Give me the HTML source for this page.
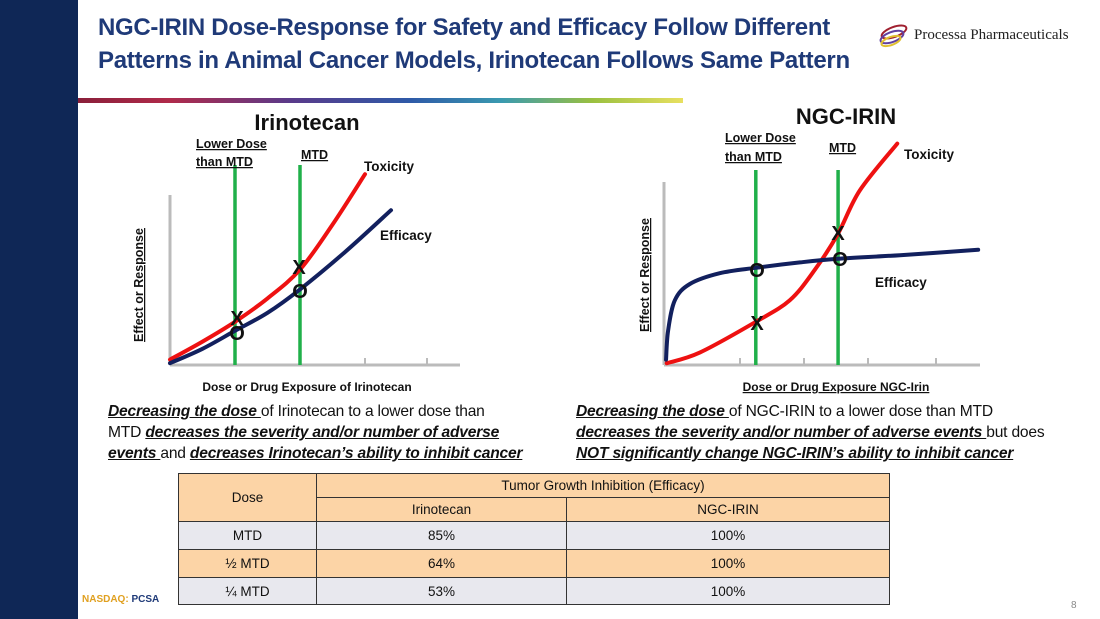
<!DOCTYPE html>
<html><head><meta charset="utf-8">
<style>
body{margin:0;width:1100px;height:619px;position:relative;background:#fff;font-family:"Liberation Sans",sans-serif;overflow:hidden}
.abs{position:absolute;white-space:nowrap}
.title{left:98px;color:#1f3a78;font-weight:bold;font-size:24px;letter-spacing:-0.3px}
.para{font-size:15.6px;color:#111;letter-spacing:-0.2px}
.para b{font-style:italic;text-decoration:underline}
table{position:absolute;left:178px;top:473px;border-collapse:collapse;font-size:13.5px;width:712px;color:#111}
td{border:1px solid #333;text-align:center;padding:0}
.o{background:#fcd4a6}.g{background:#e8e8ee}
</style></head><body>
<div class="abs" style="left:0;top:0;width:78px;height:619px;background:#0f2756"></div>
<div class="abs title" style="top:14px">NGC-IRIN Dose-Response for Safety and Efficacy Follow Different</div>
<div class="abs title" style="top:47px">Patterns in Animal Cancer Models, Irinotecan Follows Same Pattern</div>
<div class="abs" style="left:78px;top:98px;width:605px;height:5px;background:linear-gradient(90deg,#8a1f3a,#b02a4a 15%,#5a3a8a 35%,#2e5aa8 55%,#3a9ab0 70%,#9ac040 85%,#e8e060)"></div>
<div class="abs" style="left:876px;top:24px">
<svg width="40" height="24"><ellipse cx="18" cy="8" rx="13" ry="5" fill="none" stroke="#a02030" stroke-width="2" transform="rotate(-20 18 8)"/><ellipse cx="16" cy="13" rx="12" ry="5" fill="none" stroke="#6040a0" stroke-width="2" transform="rotate(-20 16 13)"/><ellipse cx="15" cy="17" rx="10" ry="4" fill="none" stroke="#e0c030" stroke-width="2" transform="rotate(-20 15 17)"/></svg></div>
<div class="abs" style="left:914px;top:27px;font-family:'Liberation Serif',serif;font-size:15px;color:#222">Processa Pharmaceuticals</div>

<svg class="abs" style="left:0;top:0" width="1100" height="619">
<g id="charts" font-family="Liberation Sans, sans-serif" font-weight="bold"></g>
</svg>

<div class="abs para" style="left:108px;top:401px;line-height:21px">
<b>Decreasing the dose </b>of Irinotecan to a lower dose than<br>MTD <b>decreases the severity and/or number of adverse</b><br><b>events </b>and <b>decreases Irinotecan’s ability to inhibit cancer</b></div>
<div class="abs para" style="left:576px;top:401px;line-height:21px">
<b>Decreasing the dose </b>of NGC-IRIN to a lower dose than MTD<br><b>decreases the severity and/or number of adverse events </b>but does<br><b>NOT significantly change NGC-IRIN’s ability to inhibit cancer</b></div>

<table>
<tr class="o" style="height:24px"><td rowspan="2" style="width:137px">Dose</td><td colspan="2">Tumor Growth Inhibition (Efficacy)</td></tr>
<tr class="o" style="height:24px"><td style="width:249px">Irinotecan</td><td>NGC-IRIN</td></tr>
<tr class="g" style="height:28px"><td>MTD</td><td>85%</td><td>100%</td></tr>
<tr class="o" style="height:28px"><td>½ MTD</td><td>64%</td><td>100%</td></tr>
<tr class="g" style="height:27px"><td>¼ MTD</td><td>53%</td><td>100%</td></tr>
</table>
<div class="abs" style="left:82px;top:594px;font-size:10px;font-weight:bold;color:#e0a020">NASDAQ: <span style="color:#1f3a78">PCSA</span></div>
<div class="abs" style="left:1071px;top:600px;font-size:10px;color:#888">8</div>

<script>
// Left chart (Irinotecan) data
const leftToxX=[0,0.5,1,1.5,2,2.5,3];
const leftToxY=[3,13,24,37,53,78,106];
const leftEffX=[0,0.5,1,1.5,2,2.7,3.4];
const leftEffY=[1,9,19,29,42,63,86];
const leftDoses=[1,2];
// Right chart (NGC-IRIN) data
const rightToxX=[0.04,0.53,1.35,1.85,2.22,2.56,2.88,3.43];
const rightToxY=[1,7,24,36,53,73,97,123];
const rightEffX=[0.03,0.06,0.16,0.38,0.82,1.35,2,2.56,3.47,4.62];
const rightEffY=[3,19,36,45,51,54,57,59,61,64];
const rightDoses=[1.35,2.56];
const xTicks=[1,2,3,4];

const g=document.getElementById('charts');
const NS='http://www.w3.org/2000/svg';
function el(t,a,txt){const e=document.createElementNS(NS,t);for(const k in a)e.setAttribute(k,a[k]);if(txt)e.textContent=txt;g.appendChild(e);return e;}
function smooth(P){let d='M'+P[0][0]+','+P[0][1];
  for(let i=0;i<P.length-1;i++){const p0=P[i-1]||P[i],p1=P[i],p2=P[i+1],p3=P[i+2]||p2;
    const c1=[p1[0]+(p2[0]-p0[0])/6,p1[1]+(p2[1]-p0[1])/6],c2=[p2[0]-(p3[0]-p1[0])/6,p2[1]-(p3[1]-p1[1])/6];
    d+=' C'+c1+' '+c2+' '+p2;}
  return d;}

function chart(o){
  const sx=v=>o.x0+v*o.kx, sy=v=>o.y0-v*1.8;
  let e;
  e=el('line',{x1:o.x0,y1:o.yTop,x2:o.x0,y2:o.y0,stroke:'#bbb','stroke-width':3});
  
  
  e=el('line',{x1:o.x0,y1:o.y0,x2:o.xEnd,y2:o.y0,stroke:'#bbb','stroke-width':3});
  
  
  xTicks.forEach(t=>{const px=o.tickPx(t);
    e=el('line',{x1:px,y1:o.y0,x2:px,y2:o.y0-7,stroke:'#bbb','stroke-width':2});
    
    });
  o.doses.forEach((d,i)=>{
    e=el('line',{x1:sx(d),y1:o.gTop,x2:sx(d),y2:o.y0,stroke:'#20b04a','stroke-width':3.5});
    
    });
  const pts=(X,Y)=>X.map((x,i)=>[sx(x),sy(Y[i])]);
  e=el('path',{d:smooth(pts(o.tx,o.ty)),fill:'none',stroke:'#ee1111','stroke-width':4,'stroke-linecap':'round'});
  
  
  e=el('path',{d:smooth(pts(o.ex,o.ey)),fill:'none',stroke:'#12205e','stroke-width':4,'stroke-linecap':'round'});
  
  
}
chart({id:'irinotecan',x0:170,kx:65,y0:365,yTop:195,xEnd:460,gTop:165,doses:leftDoses,tx:leftToxX,ty:leftToxY,ex:leftEffX,ey:leftEffY,tickPx:t=>[235,300,365,427][t-1]});
chart({id:'ngc-irin',x0:664,kx:68,y0:365,yTop:182,xEnd:980,gTop:170,doses:rightDoses,tx:rightToxX,ty:rightToxY,ex:rightEffX,ey:rightEffY,tickPx:t=>[740,804,868,936][t-1]});

function txt(x,y,s,size,name,anchor,ul){const e=el('text',{x:x,y:y,'font-size':size,fill:'#111','text-anchor':anchor||'start','text-decoration':ul?'underline':'none'},s);
  
  return e;}
txt(307,130,'Irinotecan',22,'irinotecan-chart-title','middle');
txt(196,148,'Lower Dose',12.5,'irinotecan-lower-dose-label','start',1);
txt(196,166,'than MTD',12.5,'irinotecan-lower-dose-label-2','start',1);
txt(301,159,'MTD',12.5,'irinotecan-mtd-label','start',1);
txt(364,171,'Toxicity',13.5,'irinotecan-toxicity-label');
txt(380,240,'Efficacy',13.5,'irinotecan-efficacy-label');
txt(307,391,'Dose or Drug Exposure of Irinotecan',12,'irinotecan-x-axis-title','middle');
let t=txt(0,0,'Effect or Response',12.5,'irinotecan-y-axis-title','middle',1);t.setAttribute('transform','translate(143,285) rotate(-90)');
txt(846,124,'NGC-IRIN',22,'ngc-irin-chart-title','middle');
txt(725,142,'Lower Dose',12.5,'ngc-irin-lower-dose-label','start',1);
txt(725,161,'than MTD',12.5,'ngc-irin-lower-dose-label-2','start',1);
txt(829,152,'MTD',12.5,'ngc-irin-mtd-label','start',1);
txt(904,159,'Toxicity',13.5,'ngc-irin-toxicity-label');
txt(875,287,'Efficacy',13.5,'ngc-irin-efficacy-label');
txt(836,391,'Dose or Drug Exposure NGC-Irin',12,'ngc-irin-x-axis-title','middle',1);
t=txt(0,0,'Effect or Response',12.5,'ngc-irin-y-axis-title','middle',1);t.setAttribute('transform','translate(649,275) rotate(-90)');
// markers
[[237,325,'X'],[237,340,'O'],[299,274,'X'],[300,298,'O'],[757,330,'X'],[757,277,'O'],[838,240,'X'],[840,266,'O']].forEach(m=>{
  const e=el('text',{x:m[0],y:m[1],'font-size':20,'text-anchor':'middle',fill:'#111'},m[2]);
  
  });
</script>
</body></html>
